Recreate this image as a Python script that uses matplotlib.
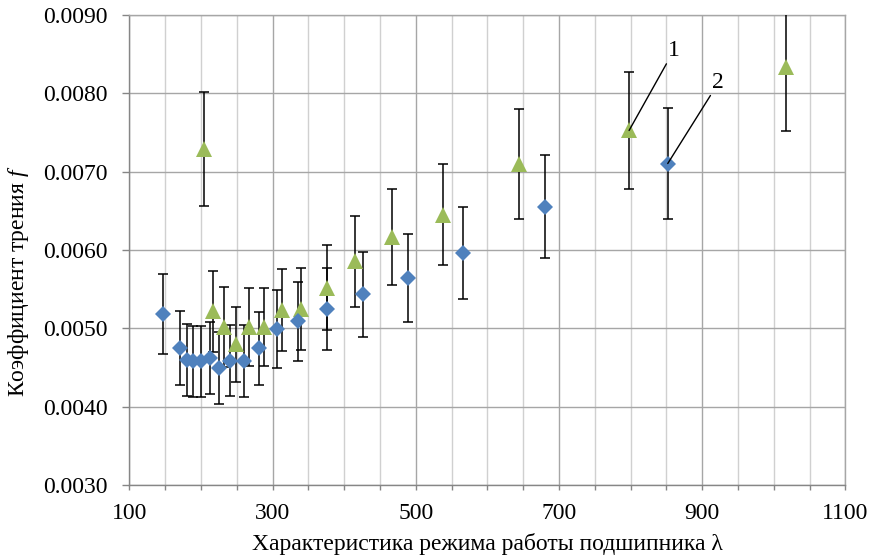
#!/usr/bin/env python3

import numpy as np
import matplotlib
matplotlib.use('Agg')
import matplotlib.pyplot as plt
from matplotlib.ticker import FixedLocator, MultipleLocator, FormatStrFormatter

# Series 1 (green triangles)
lam1 = [204.7, 217.3, 232.7, 249.4, 267.6, 288.5, 313.3, 339.8, 376.5,
        415.2, 466.5, 538.0, 644.7, 798.0, 1016.7]
f1 = [0.00729, 0.005217, 0.005011, 0.004792, 0.005019, 0.005018, 0.00523,
      0.005248, 0.005517, 0.005856, 0.006165, 0.006448, 0.00710, 0.007525,
      0.00834]
err1 = [0.00073, 0.000517, 0.000511, 0.000475, 0.000498, 0.0005, 0.000522,
        0.000526, 0.000545, 0.000581, 0.000613, 0.000645, 0.000702, 0.000751,
        0.00082]

# Series 2 (blue diamonds)
lam2 = [147.5, 170.8, 181.0, 189.4, 199.7, 212.3, 225.7, 240.6, 260.2,
        280.7, 305.9, 336.0, 376.5, 426.8, 489.7, 566.5, 680.6, 852.0]
f2 = [0.005179, 0.00475, 0.004596, 0.004577, 0.004579, 0.004622, 0.004494,
      0.004587, 0.004583, 0.004741, 0.00499, 0.005088, 0.005241, 0.005434,
      0.005637, 0.00596, 0.006554, 0.007103]
err2 = [0.000513, 0.000475, 0.000458, 0.000455, 0.000453, 0.000462, 0.000462,
        0.000453, 0.000458, 0.00047, 0.000498, 0.000506, 0.000524, 0.000543,
        0.000562, 0.000591, 0.000654, 0.000709]

x_major = [100, 300, 500, 700, 900, 1100]

plt.rcParams['font.family'] = ['Liberation Serif', 'DejaVu Serif']
plt.rcParams['mathtext.fontset'] = 'custom'
plt.rcParams['mathtext.rm'] = 'Liberation Serif'
plt.rcParams['mathtext.it'] = 'Liberation Serif:italic'

AXIS_GREY = '#868686'
MAJOR_GRID = '#A6A6A6'
MINOR_GRID = '#D0D0D0'

fig = plt.figure(figsize=(8.72, 5.59), dpi=100)
ax = fig.add_axes([0.1483, 0.1327, 0.8211, 0.8405])

# error bars first, markers on top
for x, y, e in [(lam1, f1, err1), (lam2, f2, err2)]:
    ax.errorbar(x, y, yerr=e, fmt='none', ecolor='black', elinewidth=1.1,
                capsize=3.4, capthick=1.1, zorder=3)

ax.plot(lam1, f1, linestyle='none', marker='^', markersize=11.5,
        color='#9BBB59', markeredgewidth=0, zorder=4)
ax.plot(lam2, f2, linestyle='none', marker='D', markersize=8.2,
        color='#4F81BD', markeredgewidth=0, zorder=5)

# curve labels
ax.annotate('1', xy=(lam1[-2], f1[-2]), xytext=(28, 50),
            textcoords='offset points', ha='left', va='bottom', fontsize=17,
            arrowprops=dict(arrowstyle='-', color='black', lw=1,
                            relpos=(0, 0), shrinkA=0, shrinkB=0), zorder=6)
ax.annotate('2', xy=(lam2[-1], f2[-1]), xytext=(32, 51),
            textcoords='offset points', ha='left', va='bottom', fontsize=17,
            arrowprops=dict(arrowstyle='-', color='black', lw=1,
                            relpos=(0, 0), shrinkA=0, shrinkB=0), zorder=6)

ax.set_xlim(100, 1100)
ax.set_ylim(0.003, 0.009)
ax.xaxis.set_major_locator(FixedLocator(x_major))
ax.xaxis.set_minor_locator(MultipleLocator(50))
ax.yaxis.set_major_locator(MultipleLocator(0.001))
ax.yaxis.set_major_formatter(FormatStrFormatter('%.4f'))

ax.grid(True, which='major', color=MAJOR_GRID, linewidth=1.0, zorder=0)
ax.grid(True, which='minor', axis='x', color=MINOR_GRID, linewidth=1.0, zorder=0)
ax.set_axisbelow(True)

for side in ['left', 'bottom']:
    ax.spines[side].set_color(AXIS_GREY)
    ax.spines[side].set_linewidth(1.0)
for side in ['top', 'right']:
    ax.spines[side].set_color(MAJOR_GRID)
    ax.spines[side].set_linewidth(1.0)

ax.tick_params(axis='both', which='both', direction='out', color=AXIS_GREY,
               width=1.0, labelsize=17)
ax.tick_params(axis='y', which='major', length=5, pad=10.3)
ax.tick_params(axis='x', which='both', length=3.6, pad=9.5)

ax.set_xlabel('Характеристика режима работы подшипника λ', fontsize=17)
ax.set_ylabel('Коэффициент трения $f$', fontsize=17)
ax.xaxis.set_label_coords(0.5, -0.1026)
ax.yaxis.set_label_coords(-0.137, 0.434)

fig.savefig('out.png', dpi=100)
